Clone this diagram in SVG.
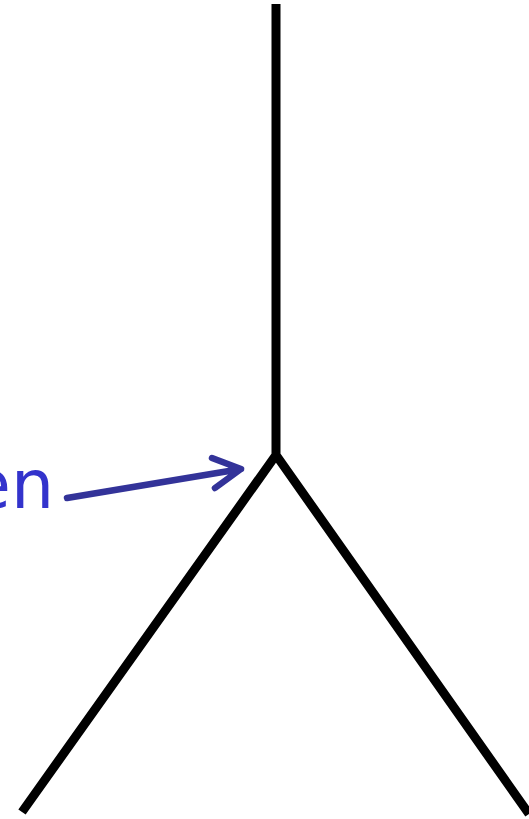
<svg xmlns="http://www.w3.org/2000/svg" width="529" height="819" viewBox="0 0 529 819">
<style>
.edge{stroke:#000;stroke-width:9;fill:none;stroke-linejoin:miter}
.arrow{stroke:#333399;stroke-width:6.5;fill:none;stroke-linecap:round;stroke-linejoin:round}
.lbl{font-family:"DejaVu Sans",Verdana,sans-serif;font-size:68px;fill:#3333cc}
</style>
<rect width="529" height="819" fill="#fff"/>
<g id="tree">
<path class="edge" d="M276,4 V455 M22,812 L276,455 L529,814"/>
</g>
<g id="label">
<text class="lbl" x="54" y="508" text-anchor="end">en</text>
</g>
<g id="connectors">
<path class="arrow" d="M67,498 L241,469 M212,458 L241,469 L215,488"/>
</g>
</svg>
